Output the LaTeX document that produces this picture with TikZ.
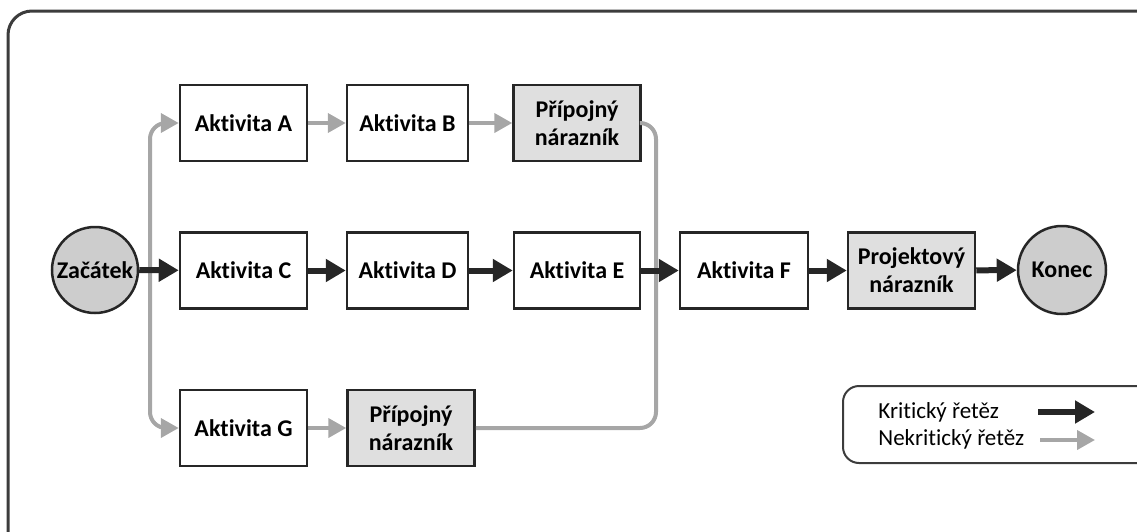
\documentclass[tikz,border=0pt]{standalone}
\usepackage{fontspec}
\setmainfont{Carlito}[Ligatures=NoCommon]
\usetikzlibrary{arrows.meta, positioning}
\definecolor{tmava}{HTML}{262626}
\definecolor{sedalinka}{HTML}{A6A6A6}
\definecolor{vypln}{HTML}{DFDFDF}
\begin{document}
\begin{tikzpicture}[x=0.5pt,y=-0.5pt,
  akt/.style={draw=tmava,line width=1.25pt,fill=white,minimum width=63.5pt,minimum height=38pt,inner sep=0pt,font=\fontsize{12}{14}\selectfont\bfseries,align=center},
  buf/.style={akt,fill=vypln},
  kruh/.style={circle,draw=tmava,line width=1.25pt,fill=vypln!92!black,minimum size=43pt,inner sep=0pt,font=\fontsize{12}{14}\selectfont\bfseries},
  krit/.style={tmava,line width=3pt,-{Triangle[length=10pt,width=11pt]}},
  nekrit/.style={sedalinka,line width=2pt,-{Triangle[length=9pt,width=9.5pt]}},
  sedacara/.style={sedalinka,line width=2pt,rounded corners=8pt},
  popis/.style={font=\fontsize{11.5}{13}\selectfont,inner sep=0pt,anchor=west}]
\useasboundingbox (0,0) rectangle (1137,531);
\clip (0,0) rectangle (1137,531);
% ramecek
\draw[tmava!90,line width=1.5pt,rounded corners=12pt] (8,11) rectangle (1170,570);

% uzly
\node[kruh] (zac) at (95,270) {Začátek};
\node[akt] (A) at (243.5,123) {Aktivita A};
\node[akt,minimum width=60.5pt] (B) at (407.5,123) {Aktivita B};
\node[buf] (pb1) at (577,123) {Přípojný\\nárazník};
\node[akt] (C) at (243.5,270.5) {Aktivita C};
\node[akt,minimum width=60.5pt] (D) at (407.5,270.5) {Aktivita D};
\node[akt,minimum width=63pt] (E) at (577,270.5) {Aktivita E};
\node[akt,minimum width=64pt] (F) at (744,270.5) {Aktivita F};
\node[buf] (pb) at (911.5,270.5) {Projektový\\nárazník};
\node[kruh,minimum size=44pt] (kon) at (1062,270) {Konec};
\node[akt] (G) at (243.5,428) {Aktivita G};
\node[buf] (pb2) at (411,428) {Přípojný\\nárazník};

% rozvetveni a spojeni
\coordinate (rozv) at (150,270);
\coordinate (spoj) at (656,270);
\draw[nekrit,rounded corners=8pt] (rozv) |- (A);
\draw[nekrit,rounded corners=8pt] (rozv) |- (G);
\draw[sedacara] (pb1) -| (spoj);
\draw[sedacara] (pb2) -| (spoj);
\draw[nekrit] (A) -- (B);
\draw[nekrit] (B) -- (pb1);
\draw[nekrit] (G) -- (pb2);

% kriticky retez
\draw[krit] (zac) -- (C);
\draw[krit] (C) -- (D);
\draw[krit] (D) -- (E);
\draw[krit] (E) -- (F);
\draw[krit] (F) -- (pb);
\draw[krit] (pb) -- (kon);

% legenda
\draw[tmava!90,line width=1pt,rounded corners=8pt] (843,386) rectangle (1180,463);
\node[popis] (lk) at (878,412) {Kritický řetěz};
\node[popis] (ln) at (878,439) {Nekritický řetěz};
\coordinate (lk1) at (1038,412);
\coordinate (lk2) at (1095,412);
\coordinate (ln1) at (1040,440);
\coordinate (ln2) at (1095,440);
\draw[krit] (lk1) -- (lk2);
\draw[nekrit] (ln1) -- (ln2);
\end{tikzpicture}
\end{document}
